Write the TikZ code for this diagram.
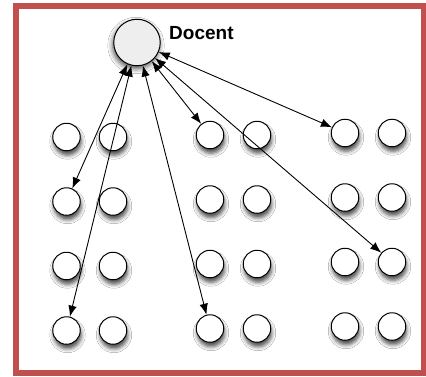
\documentclass[tikz,border=0pt]{standalone}
\usepackage{fontspec}
\setmainfont{Liberation Sans}
\usetikzlibrary{arrows.meta,shadows.blur}
\definecolor{framered}{RGB}{192,80,77}
\definecolor{docentfill}{RGB}{238,238,238}
\begin{document}
\begin{tikzpicture}[x=1pt,y=-1pt,
  pupil/.style={circle,draw,line width=1pt,fill=white,minimum size=27.5pt,inner sep=0pt,
    blur shadow={shadow xshift=1pt,shadow yshift=-4.5pt,shadow blur radius=4pt,shadow opacity=70}},
  docent/.style={circle,draw,line width=1pt,fill=docentfill,minimum size=46.5pt,inner sep=0pt,
    blur shadow={shadow xshift=-1pt,shadow yshift=-3pt,shadow blur radius=5pt,shadow opacity=70}},
  link/.style={{Latex[length=11pt,width=8.5pt]}-{Latex[length=11pt,width=8.5pt]},line width=0.9pt},
  lbl/.style={font=\bfseries\fontsize{19}{22}\selectfont,anchor=base west,inner sep=0pt}]
\useasboundingbox (0,0) rectangle (426,376);
\fill[white] (0,0) rectangle (426,376);
\draw[framered,line width=6pt] (16,6.2) rectangle (424,373);
\node[docent] (d) at (137,42.5) {};
\node[lbl] (dl) at (169,39) {Docent};
\foreach \c/\x/\yo in {1/66.5/137,2/113/137,3/210/135,4/257/135,5/345/133,6/392/133}{
  \foreach \r in {1,2,3,4}{
    \node[pupil] (p\r\c) at (\x,{\yo+(\r-1)*64.5}) {};
  }
}
\draw[link] (d) -- (p21);
\draw[link] (d) -- (p41);
\draw[link] (d) -- (p43);
\draw[link] (d) -- (p13);
\draw[link] (d) -- (p36);
\draw[link] (d) -- (p15);
\end{tikzpicture}
\end{document}
